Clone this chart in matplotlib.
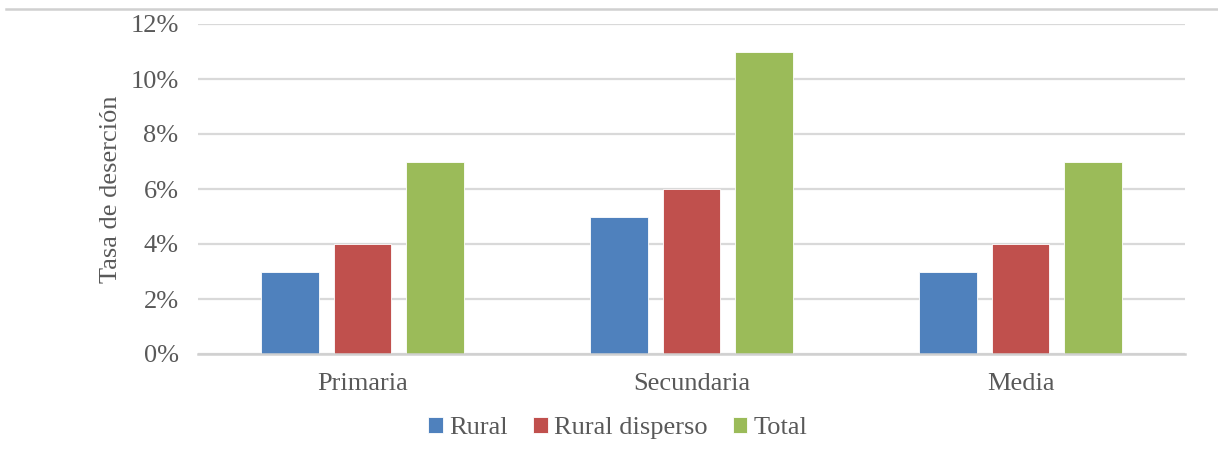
import numpy as np
import matplotlib
matplotlib.use("Agg")
from matplotlib import pyplot as plt
from matplotlib.lines import Line2D

# datos
niveles = ["Primaria", "Secundaria", "Media"]
series = ["Rural", "Rural disperso", "Total"]
rural = [3, 5, 3]
rural_disperso = [4, 6, 4]
total = [7, 11, 7]
yticks = [0, 2, 4, 6, 8, 10, 12]

colores = ["#4F81BD", "#C0504D", "#9BBB59"]
gris = "#595959"

plt.rcParams['font.family'] = ['Liberation Serif', 'DejaVu Serif']

fig = plt.figure(figsize=(12.18, 4.63), dpi=100)
ax = fig.add_axes([198/1218, 1-354/463, (1185-198)/1218, (354-24)/463])

x = np.arange(len(niveles))
w = 0.176
off = 0.219
valores = [rural, rural_disperso, total]
for k in range(3):
    ax.bar(x + (k-1)*off, valores[k], width=w, color=colores[k], label=series[k],
           edgecolor="#ffffff", linewidth=0.6, zorder=3)

ax.set_xlim(-0.5, 2.5)
ax.set_ylim(0, 12)
ax.set_yticks(yticks)
ax.set_yticklabels([str(v) + "%" for v in yticks])
ax.set_xticks(x)
ax.set_xticklabels(niveles)
ax.tick_params(axis='both', length=0, labelsize=19, labelcolor=gris)
ax.tick_params(axis='y', pad=14)
ax.tick_params(axis='x', pad=14)
ax.yaxis.grid(True, color="#D9D9D9", linewidth=1.6, zorder=0)
for s in ['top', 'right', 'left']:
    ax.spines[s].set_visible(False)
ax.spines['bottom'].set_color("#D0D0D0")
ax.spines['bottom'].set_linewidth(1.8)
ax.spines['bottom'].set_zorder(4)

ax.set_ylabel("Tasa de deserción", fontsize=19, color=gris, labelpad=6)

fig.legend(loc='center', bbox_to_anchor=(618/1218, 1-428/463), ncol=3, frameon=False,
           fontsize=19, labelcolor=gris, handlelength=0.55, handleheight=0.55,
           handletextpad=0.25, columnspacing=0.95)

# linea superior del marco
fig.add_artist(Line2D([6/1218, 1.0], [1-9/463, 1-9/463], color="#D0D0D0", linewidth=1.8))

fig.savefig("out.png", dpi=100)
